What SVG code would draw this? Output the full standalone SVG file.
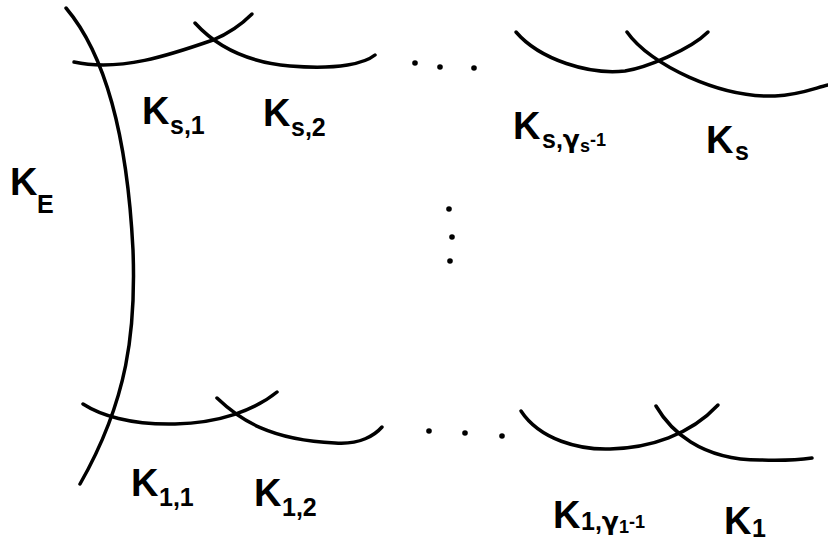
<svg xmlns="http://www.w3.org/2000/svg" width="828" height="544" viewBox="0 0 828 544">
<style>
.c{fill:none;stroke:#000;stroke-width:3.5;stroke-linecap:round;stroke-linejoin:round}
.t{font-family:"Liberation Sans",Arial,sans-serif;font-weight:bold;fill:#000}
.k{font-size:38px}
.s{font-size:25px}
.g{font-family:"DejaVu Sans",sans-serif}
.d{fill:#000}
</style>
<rect width="828" height="544" fill="#fff"/>
<g id="connectors">
<path id="KE-curve" class="c" d="M66,8 C110,60 128,150 133,250 C136,330 128,400 80,484"/>
<path class="c" d="M74,62 C120,72 170,55 213,40 C230,33 242,24 252,14"/>
<path class="c" d="M195,23 C215,45 245,62 290,66 C340,70 365,63 375,55"/>
<path class="c" d="M516,32 C540,60 590,75 625,71 C645,68 690,50 708,32"/>
<path class="c" d="M627,32 C650,65 720,98 775,96 C800,95 815,88 828,85"/>
<path class="c" d="M83,404 C100,415 130,425 175,424 C220,423 255,410 277,392"/>
<path class="c" d="M217,398 C240,420 270,440 335,443 C360,445 375,435 382,427"/>
<path class="c" d="M521,411 C540,440 580,450 610,449 C650,448 690,435 718,405"/>
<path class="c" d="M656,406 C670,430 700,460 760,460 C790,461 805,459 812,458"/>
</g>
<g id="dots">
<circle class="d" cx="415" cy="63" r="2.8"/><circle class="d" cx="440" cy="67" r="2.8"/><circle class="d" cx="474" cy="68" r="2.8"/>
<circle class="d" cx="449" cy="209" r="2.8"/><circle class="d" cx="452" cy="237" r="2.8"/><circle class="d" cx="450" cy="261" r="2.8"/>
<circle class="d" cx="429" cy="431" r="2.8"/><circle class="d" cx="465" cy="433" r="2.8"/><circle class="d" cx="502" cy="436" r="2.8"/>
</g>
<g id="KE"><text class="t k" x="10" y="195">K<tspan class="s" x="37" y="213">E</tspan></text></g>
<g id="Ks1"><text class="t k" x="142" y="124">K<tspan class="s" x="170" y="134">s,1</tspan></text></g>
<g id="Ks2"><text class="t k" x="263" y="126">K<tspan class="s" x="291" y="136">s,2</tspan></text></g>
<g id="Ksg"><text class="t k" x="513" y="139">K<tspan class="s" x="542" y="148">s,<tspan class="g">γ</tspan><tspan font-size="18px" dy="4">s</tspan><tspan font-size="18px" dy="-6">-1</tspan></tspan></text></g>
<g id="Ks"><text class="t k" x="706" y="153">K<tspan class="s" x="735" y="160">s</tspan></text></g>
<g id="K11"><text class="t k" x="131" y="496">K<tspan class="s" x="159" y="506">1,1</tspan></text></g>
<g id="K12"><text class="t k" x="254" y="506">K<tspan class="s" x="282" y="516">1,2</tspan></text></g>
<g id="K1g"><text class="t k" x="553" y="528">K<tspan class="s" x="581" y="530">1,<tspan class="g">γ</tspan><tspan font-size="18px" dy="3">1</tspan><tspan font-size="18px" dy="-5">-1</tspan></tspan></text></g>
<g id="K1"><text class="t k" x="724" y="534">K<tspan class="s" x="752" y="537">1</tspan></text></g>
</svg>
